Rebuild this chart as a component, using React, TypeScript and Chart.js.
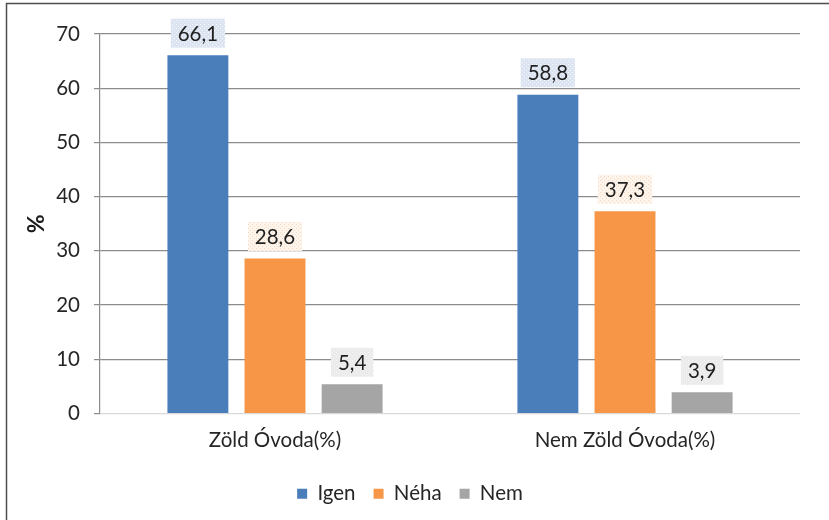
import React, { useEffect, useRef } from "react";
import { Chart, registerables } from "chart.js";

Chart.register(...registerables);

const categories = ["Zöld Óvoda(%)", "Nem Zöld Óvoda(%)"];
const seriesNames = ["Igen", "Néha", "Nem"];
const igenValues = [66.1, 58.8];
const nehaValues = [28.6, 37.3];
const nemValues = [5.4, 3.9];
const yMin = 0;
const yMax = 70;
const yStep = 10;
const yTitle = "%";

const seriesColors = ["#4a7ebb", "#f79646", "#a5a5a5"];
const FONT = "Lato, 'DejaVu Sans', sans-serif";
const TEXT = "#262626";
const FS = 20.5;

function makePattern(ctx: CanvasRenderingContext2D, base: string, dot: string) {
  const c = document.createElement("canvas");
  c.width = 4;
  c.height = 4;
  const p = c.getContext("2d")!;
  p.fillStyle = base;
  p.fillRect(0, 0, 4, 4);
  p.fillStyle = dot;
  p.fillRect(0, 0, 1, 1);
  p.fillRect(2, 2, 1, 1);
  return ctx.createPattern(c, "repeat");
}

const labelPlugin = {
  id: "valueBoxes",
  afterDatasetsDraw(chart: any) {
    const ctx: CanvasRenderingContext2D = chart.ctx;
    const patterns = [
      makePattern(ctx, "#dbe4f0", "#f4f7fb"),
      makePattern(ctx, "#fdf4ec", "#f8d9c0"),
      makePattern(ctx, "#ebebeb", "#f6f6f6"),
    ];
    ctx.save();
    ctx.font = `${FS}px ${FONT}`;
    ctx.textAlign = "center";
    ctx.textBaseline = "middle";
    chart.data.datasets.forEach((ds: any, di: number) => {
      const meta = chart.getDatasetMeta(di);
      meta.data.forEach((el: any, i: number) => {
        const v = ds.data[i] as number;
        const txt = v.toFixed(1).replace(".", ",");
        const tw = ctx.measureText(txt).width;
        const cx = el.x;
        const cy = el.y - 22;
        const w = tw + 14;
        const h = 29;
        ctx.fillStyle = patterns[di] as any;
        ctx.fillRect(cx - w / 2, cy - h / 2, w, h);
        ctx.fillStyle = "#1f1f1f";
        ctx.fillText(txt, cx, cy + 1);
      });
    });
    ctx.restore();
  },
};

const borderPlugin = {
  id: "frame",
  afterDraw(chart: any) {
    const ctx: CanvasRenderingContext2D = chart.ctx;
    ctx.save();
    ctx.strokeStyle = "#4d4d4d";
    ctx.lineWidth = 1.5;
    ctx.beginPath();
    ctx.moveTo(6.5, 520);
    ctx.lineTo(6.5, 3.5);
    ctx.lineTo(829, 3.5);
    ctx.stroke();
    ctx.restore();
  },
};

export default function App() {
  const ref = useRef<HTMLCanvasElement | null>(null);
  useEffect(() => {
    if (!ref.current) return;
    const chart = new Chart(ref.current, {
      type: "bar",
      data: {
        labels: categories,
        datasets: [
          { label: seriesNames[0], data: igenValues, backgroundColor: seriesColors[0] },
          { label: seriesNames[1], data: nehaValues, backgroundColor: seriesColors[1] },
          { label: seriesNames[2], data: nemValues, backgroundColor: seriesColors[2] },
        ],
      },
      options: {
        animation: false,
        responsive: false,
        events: [],
        categoryPercentage: 0.661,
        barPercentage: 0.79,
        layout: { padding: { left: 20, top: 34, right: 29, bottom: 6 } },
        plugins: {
          legend: {
            position: "bottom",
            labels: {
              boxWidth: 10,
              boxHeight: 10,
              padding: 18,
              color: TEXT,
              font: { family: FONT, size: FS },
            },
          },
          tooltip: { enabled: false },
        },
        scales: {
          x: {
            grid: { display: false, drawTicks: false },
            border: { display: false },
            ticks: { color: TEXT, font: { family: FONT, size: FS }, padding: 15 },
            afterFit: (s: any) => {
              s.height = 52;
            },
          },
          y: {
            min: yMin,
            max: yMax,
            ticks: { stepSize: yStep, color: TEXT, font: { family: FONT, size: FS }, padding: 14 },
            grid: {
              color: (c: any) => (c.tick && c.tick.value === 0 ? "#d9d9d9" : "#8c8c8c"),
              tickColor: "#8c8c8c",
              tickLength: 6,
              lineWidth: 1.2,
            },
            border: { display: true, color: "#8c8c8c", width: 1.2 },
            title: {
              display: true,
              text: yTitle,
              color: "#1a1a1a",
              font: { family: FONT, size: 23, weight: "bold" },
              padding: { top: 3, bottom: 0 },
            },
            afterFit: (s: any) => {
              s.width = 80;
            },
          },
        },
      },
      plugins: [labelPlugin, borderPlugin],
    });
    return () => chart.destroy();
  }, []);
  return (
    <div style={{ position: "fixed", left: 0, top: 0, background: "#fff" }}>
      <canvas ref={ref} width={829} height={520} style={{ display: "block" }} />
    </div>
  );
}
